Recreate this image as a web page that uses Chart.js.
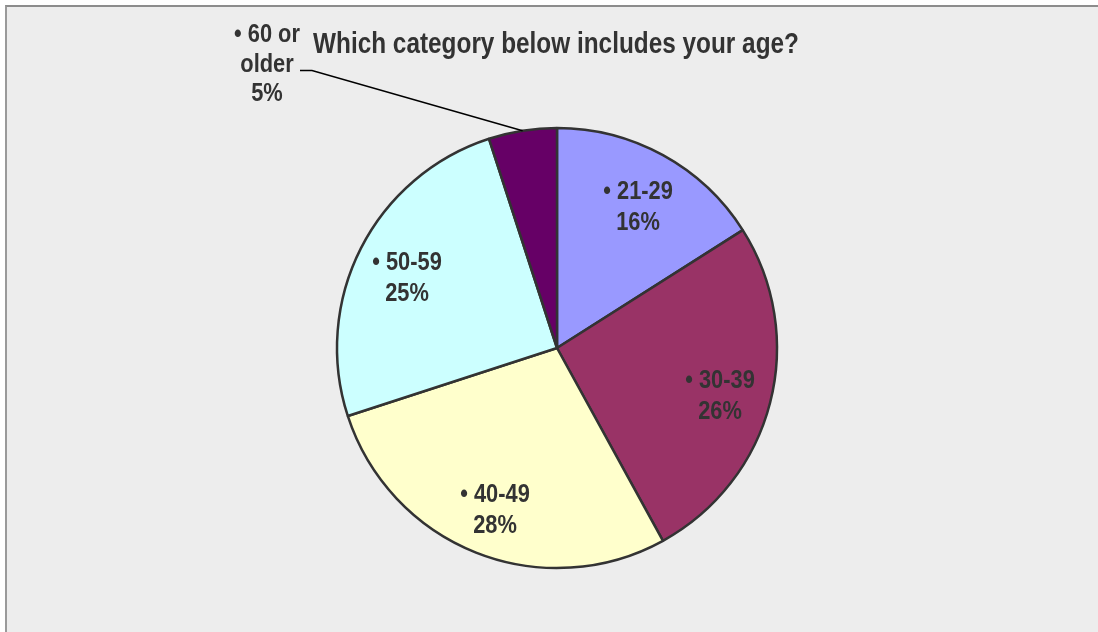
<!DOCTYPE html>
<html>
<head>
<meta charset="utf-8">
<script src="https://cdn.jsdelivr.net/npm/chart.js@4/dist/chart.umd.min.js"></script>
<style>
  html, body { margin: 0; padding: 0; width: 1098px; height: 632px; overflow: hidden; background: #ffffff; }
  #frame { position: absolute; left: 5px; top: 5px; width: 1200px; height: 700px;
           background: #EDEDED; border-left: 2px solid #9a9a9a; border-top: 2px solid #8c8c8c; }
  #c { position: absolute; left: 0; top: 0; }
</style>
</head>
<body>
<div id="frame"></div>
<canvas id="c" width="1098" height="632"></canvas>
<script>
// Survey: age groups of respondents
const chartTitle = 'Which category below includes your age?';
const categories = ['21-29', '30-39', '40-49', '50-59', '60 or older'];
const shares = [16, 26, 28, 25, 5];
const sliceColors = ['#9999FF', '#993366', '#FFFFCC', '#CCFFFF', '#660066'];

const TEXT_COLOR = '#333333';
const FONT_FAMILY = '"Liberation Sans", Arial, sans-serif';
const SQUEEZE = 0.84;      // horizontal squeeze to get a narrow bold face
const LABEL_SIZE = 26;
const TITLE_SIZE = 29;
const INNER_STEP = 31;
const OUTER_STEP = 29.5;

function drawNarrow(ctx, text, x, y, size) {
  ctx.save();
  ctx.font = `bold ${size}px ${FONT_FAMILY}`;
  ctx.translate(x, y);
  ctx.scale(SQUEEZE, 1);
  ctx.fillText(text, 0, 0);
  ctx.restore();
}

function narrowWidth(ctx, text, size) {
  ctx.save();
  ctx.font = `bold ${size}px ${FONT_FAMILY}`;
  const w = ctx.measureText(text).width * SQUEEZE;
  ctx.restore();
  return w;
}

function wrapText(ctx, text, size, maxW) {
  const words = text.split(' ');
  const lines = [];
  let cur = '';
  words.forEach(w => {
    const test = cur ? cur + ' ' + w : w;
    if (cur && narrowWidth(ctx, test, size) > maxW) {
      lines.push(cur);
      cur = w;
    } else {
      cur = test;
    }
  });
  if (cur) lines.push(cur);
  return lines;
}

const sliceLabels = {
  id: 'sliceLabels',
  afterDatasetsDraw(chart) {
    const ctx = chart.ctx;
    const meta = chart.getDatasetMeta(0);
    meta.data.forEach((arc, i) => {
      const { x, y, startAngle, endAngle, outerRadius } =
        arc.getProps(['x', 'y', 'startAngle', 'endAngle', 'outerRadius'], true);
      const mid = (startAngle + endAngle) / 2;
      const head = '\u2022 ' + categories[i];
      const pct = shares[i] + '%';
      ctx.fillStyle = TEXT_COLOR;
      ctx.textAlign = 'center';
      ctx.textBaseline = 'alphabetic';
      if (shares[i] >= 8) {
        const r = outerRadius * 0.765;
        const lx = x + Math.cos(mid) * r;
        const ly = y + Math.sin(mid) * r;
        drawNarrow(ctx, head, lx, ly - 2, LABEL_SIZE);
        drawNarrow(ctx, pct, lx, ly - 2 + INNER_STEP, LABEL_SIZE);
      } else {
        // small slice: label outside, joined by a leader line
        const ex = x + Math.cos(mid) * outerRadius;
        const ey = y + Math.sin(mid) * outerRadius;
        const lines = wrapText(ctx, head, LABEL_SIZE, 72).concat([pct]);
        const lx = x - 290;
        const firstBase = y - 306;
        lines.forEach((t, k) => drawNarrow(ctx, t, lx, firstBase + k * OUTER_STEP, LABEL_SIZE));
        const sx = lx + 33, sy = firstBase + OUTER_STEP - 1;
        ctx.save();
        ctx.strokeStyle = '#000000';
        ctx.lineWidth = 1.5;
        ctx.beginPath();
        ctx.moveTo(sx, sy);
        ctx.lineTo(sx + 12, sy);
        ctx.lineTo(ex, ey);
        ctx.stroke();
        ctx.restore();
      }
    });
  }
};

const narrowTitle = {
  id: 'narrowTitle',
  afterDraw(chart) {
    const ctx = chart.ctx;
    const arc = chart.getDatasetMeta(0).data[0];
    ctx.fillStyle = TEXT_COLOR;
    ctx.textAlign = 'center';
    ctx.textBaseline = 'alphabetic';
    drawNarrow(ctx, chartTitle, arc.x - 1, 53, TITLE_SIZE);
  }
};

new Chart(document.getElementById('c'), {
  type: 'pie',
  data: {
    labels: categories,
    datasets: [{
      data: shares,
      backgroundColor: sliceColors,
      borderColor: '#333333',
      borderWidth: 2.5,
      radius: 220
    }]
  },
  options: {
    responsive: false,
    animation: false,
    devicePixelRatio: 1,
    layout: { padding: { left: 16, right: 0, top: 64, bottom: 0 } },
    plugins: {
      legend: { display: false },
      tooltip: { enabled: false },
      title: { display: false }
    }
  },
  plugins: [sliceLabels, narrowTitle]
});
</script>
</body>
</html>
